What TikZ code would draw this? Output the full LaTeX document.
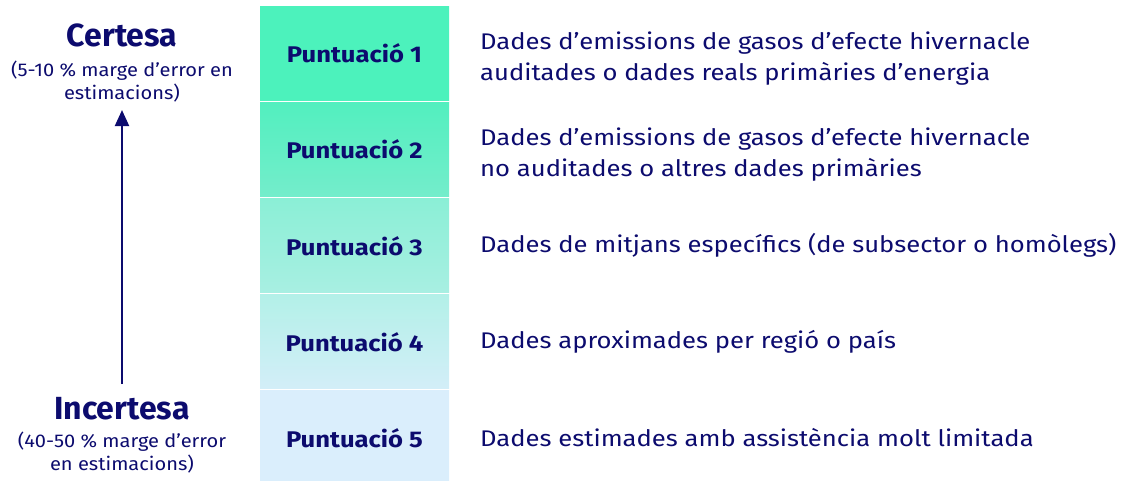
\documentclass[tikz,border=0pt]{standalone}
\usepackage{fontspec}
\setmainfont{Fira Sans}
\newfontfamily\widefont[FakeStretch=1.13]{Fira Sans}
\newfontfamily\notefont[FakeStretch=1.09]{Fira Sans}
\usepackage{xcolor}
\usetikzlibrary{positioning, arrows.meta}
\definecolor{navy}{HTML}{0C0B6E}
\definecolor{mintA}{HTML}{4CF2BC}
\definecolor{mintB}{HTML}{52EFBF}
\definecolor{mintC}{HTML}{74EDCB}
\definecolor{mintD}{HTML}{8BEFD6}
\definecolor{mintE}{HTML}{A8EFE2}
\definecolor{mintF}{HTML}{B3F0E8}
\definecolor{mintG}{HTML}{D3EEF8}
\definecolor{skyH}{HTML}{DAEEFC}

\begin{document}
\begin{tikzpicture}[
    x=0.75pt, y=-0.75pt,
    text=navy,
    ]
    \tikzstyle{score}=[ draw = none, minimum width = 141.75pt, minimum height = 70.6pt, inner sep = 0pt, font = \widefont\fontsize{17}{20}\selectfont\bfseries ]
    \tikzstyle{source}=[ anchor = west, inner sep = 0pt, align = left, font = \widefont\fontsize{17}{23.3}\selectfont ]
    \tikzstyle{pole}=[ inner sep = 0pt, font = \fontsize{24}{28}\selectfont\bfseries ]
    \tikzstyle{margin}=[ inner sep = 0pt, align = center, font = \notefont\fontsize{13.8}{17.3}\selectfont ]
    \useasboundingbox (0,0) rectangle (1122,481);
    \node[score, top color=mintA, bottom color=mintA] (P1) at (354.5,53.5) {Puntuació 1};
    \node[score, top color=mintB, bottom color=mintC] (P2) [below=1.1pt of P1] {Puntuació 2};
    \node[score, top color=mintD, bottom color=mintE] (P3) [below=1.1pt of P2] {Puntuació 3};
    \node[score, top color=mintF, bottom color=mintG] (P4) [below=1.1pt of P3] {Puntuació 4};
    \node[score, top color=skyH, bottom color=skyH] (P5) [below=1.1pt of P4] {Puntuació 5};
    \node[source] (S1) [right=23pt of P1, yshift=-3.5pt] {Dades d’emissions de gasos d’efecte hivernacle\\auditades o dades reals primàries d’energia};
    \node[source] (S2) [right=23pt of P2, yshift=-3.5pt] {Dades d’emissions de gasos d’efecte hivernacle\\no auditades o altres dades primàries};
    \node[source] (S3) [right=23pt of P3] {Dades de mitjans específics (de subsector o homòlegs)};
    \node[source] (S4) [right=23pt of P4] {Dades aproximades per regió o país};
    \node[source] (S5) [right=23pt of P5] {Dades estimades amb assistència molt limitada};
    \node[pole] (cert) at (122,35) {Certesa};
    \node[margin] (certm) [below=10pt of cert] {(5-10 \% marge d’error en\\estimacions)};
    \node[pole] (incert) at (122,409) {Incertesa};
    \node[margin] (incertm) [below=8pt of incert] {(40-50 \% marge d’error\\en estimacions)};
    \draw[navy, line width=1.6pt, -{Triangle[length=12pt, width=10.5pt]}] ([yshift=10pt]incert.north) -- ([yshift=-6pt]certm.south);
  \end{tikzpicture}
\end{document}
